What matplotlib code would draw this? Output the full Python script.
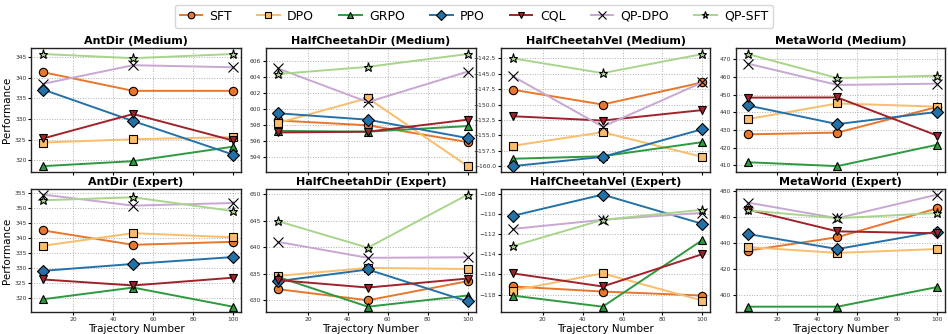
import matplotlib
matplotlib.use("Agg")
import matplotlib.pyplot as plt
import numpy as np

# trajectory counts on the x axis
traj = [5, 50, 100]

methods = ["SFT", "DPO", "GRPO", "PPO", "CQL", "QP-DPO", "QP-SFT"]
colors = ["#e8762c", "#f9bd6b", "#2e9a3f", "#2471a8", "#a0222a", "#c8a7d2", "#a8d58b"]
markers = ["o", "s", "^", "D", "v", "x", "*"]

titles = [
    "AntDir (Medium)", "HalfCheetahDir (Medium)", "HalfCheetahVel (Medium)", "MetaWorld (Medium)",
    "AntDir (Expert)", "HalfCheetahDir (Expert)", "HalfCheetahVel (Expert)", "MetaWorld (Expert)",
]

# one list per panel, rows follow the order of `methods`
antdir_medium = [
    [341.3, 336.8, 336.8],
    [324.3, 325.1, 325.6],
    [318.6, 319.8, 323.3],
    [337.1, 329.5, 321.4],
    [325.3, 331.2, 324.8],
    [338.5, 343.0, 342.5],
    [345.7, 344.7, 345.7],
]
hcdir_medium = [
    [598.6, 598.0, 595.9],
    [598.3, 601.4, 592.9],
    [597.3, 597.2, 597.9],
    [599.5, 598.7, 596.4],
    [597.1, 597.2, 598.7],
    [605.1, 600.9, 604.7],
    [604.4, 605.3, 606.9],
]
hcvel_medium = [
    [-147.6, -150.0, -146.4],
    [-156.7, -154.5, -158.5],
    [-158.8, -158.4, -156.1],
    [-160.0, -158.5, -154.0],
    [-151.9, -152.6, -150.9],
    [-145.4, -153.6, -146.4],
    [-142.5, -144.9, -141.8],
]
metaworld_medium = [
    [427.5, 428.5, 443.0],
    [436.1, 445.0, 443.2],
    [411.7, 409.5, 421.6],
    [443.9, 433.3, 440.2],
    [448.3, 448.4, 426.8],
    [467.6, 455.5, 456.2],
    [473.0, 459.4, 460.7],
]
antdir_expert = [
    [342.5, 337.7, 338.7],
    [337.4, 341.6, 340.2],
    [319.5, 323.4, 317.0],
    [329.0, 331.3, 333.6],
    [326.1, 324.1, 326.7],
    [354.5, 350.8, 351.7],
    [352.6, 353.6, 349.0],
]
hcdir_expert = [
    [632.1, 630.0, 633.6],
    [634.6, 636.1, 635.9],
    [634.4, 628.8, 630.9],
    [633.6, 635.8, 629.8],
    [633.8, 632.4, 634.1],
    [641.0, 638.0, 638.1],
    [644.9, 639.9, 649.9],
]
hcvel_expert = [
    [-117.2, -117.7, -118.1],
    [-117.6, -115.9, -118.6],
    [-118.1, -119.2, -112.6],
    [-110.2, -108.1, -111.0],
    [-115.9, -117.2, -114.0],
    [-111.5, -110.6, -109.9],
    [-113.2, -110.6, -109.6],
]
metaworld_expert = [
    [433.8, 444.2, 466.4],
    [436.6, 432.1, 435.1],
    [390.7, 390.7, 405.8],
    [446.7, 435.1, 448.5],
    [465.5, 448.7, 447.2],
    [470.9, 458.8, 477.0],
    [464.9, 458.8, 462.8],
]

panels = [antdir_medium, hcdir_medium, hcvel_medium, metaworld_medium,
          antdir_expert, hcdir_expert, hcvel_expert, metaworld_expert]

fig, axes = plt.subplots(2, 4, figsize=(9.48, 3.34), dpi=100, sharex=True)
fig.subplots_adjust(left=0.033, right=0.997, top=0.855, bottom=0.065, wspace=0.12, hspace=0.14)

for ax, title, data in zip(axes.flat, titles, panels):
    for name, c, m, vals in zip(methods, colors, markers, data):
        size = 6.5 if m in ("x", "*") else 6
        ax.plot(traj, vals, color=c, marker=m, markersize=size, linewidth=1.4,
                markeredgecolor="black", markeredgewidth=0.8, label=name)
    ax.set_title(title, fontsize=8, fontweight="bold", pad=3)
    ax.grid(True, linestyle=":", color="#b0b0b0", linewidth=0.7)
    ax.tick_params(labelsize=4.3, length=2, pad=1.5, labelcolor="#333333")
    for s in ax.spines.values():
        s.set_linewidth(1.0)
        s.set_color("#222222")
    ax.set_xlim(-1, 104)
    ax.set_xticks([20, 40, 60, 80, 100])

for ax in axes[1]:
    ax.set_xlabel("Trajectory Number", fontsize=7.5, labelpad=1)
for ax in axes[:, 0]:
    ax.set_ylabel("Performance", fontsize=7.5, labelpad=2)

handles, labels = axes[0, 0].get_legend_handles_labels()
fig.legend(handles, labels, loc="upper center", ncol=7, fontsize=9,
           bbox_to_anchor=(0.5, 1.005), frameon=True, handlelength=1.8,
           columnspacing=2.0, handletextpad=0.6, borderpad=0.4, markerscale=0.8)

fig.savefig("out.png", dpi=100)
